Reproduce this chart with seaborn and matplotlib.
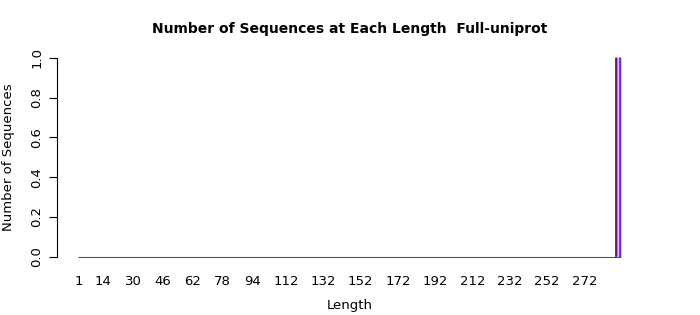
import matplotlib
matplotlib.use("Agg")
import matplotlib.pyplot as plt
import seaborn as sns
import numpy as np
import pandas as pd

# Data
lengths = list(range(1, 292))
counts = [0] * len(lengths)
counts[289 - 1] = 1
counts[291 - 1] = 1
tick_labels = [1, 14, 30, 46, 62, 78, 94, 112, 132, 152, 172, 192, 212, 232, 252, 272]
yticks = [0.0, 0.2, 0.4, 0.6, 0.8, 1.0]

bar_colors = {L: "#ffffff" for L in lengths}
bar_colors[289] = "#8B0000"
bar_colors[291] = "#A020F0"

sns.set_style("white")
plt.rcParams['font.family'] = ['DejaVu Sans']
plt.rcParams['text.color'] = 'black'
plt.rcParams['axes.labelcolor'] = 'black'
plt.rcParams['xtick.color'] = 'black'
plt.rcParams['ytick.color'] = 'black'

df = pd.DataFrame({"Length": lengths, "Count": counts})

fig = plt.figure(figsize=(7, 3.15), dpi=100)
W, H = 700, 315
ax = fig.add_axes([57 / W, (H - 264) / H, (643 - 57) / W, (264 - 50) / H])

sns.barplot(data=df, x="Length", y="Count", hue="Length", palette=bar_colors,
            legend=False, ax=ax, width=0.83, edgecolor="#5a2ad8", linewidth=0.72,
            order=lengths, hue_order=lengths, saturation=1)

for p in ax.patches:
    p.set_snap(False)
    if p.get_height() == 0:
        p.set_visible(False)

# baseline formed by the zero-height bar borders
ax.hlines(0, -0.5, len(lengths) - 0.5, colors="#3c3ce6", linewidth=0.75, zorder=1)

px = 541 / 290
ax.set_xlim(-(79 - 57) / px, 290 + (643 - 620) / px)
ax.set_ylim(-0.03777, 1.04)

ax.set_xticks([L - 1 for L in tick_labels])
ax.set_xticklabels([str(t) for t in tick_labels], fontsize=9.5)
ax.tick_params(axis="x", length=0, pad=8)

ax.set_yticks(yticks)
ax.set_yticklabels([f"{v:.1f}" for v in yticks], fontsize=9.5, rotation=90, va="center")
ax.tick_params(axis="y", length=6, width=0.8, direction="out", pad=4, left=True, color="black")

for s in ["top", "right", "bottom"]:
    ax.spines[s].set_visible(False)
ax.spines["left"].set_bounds(0, 1)
ax.spines["left"].set_color("black")
ax.spines["left"].set_linewidth(0.8)

ax.set_xlabel("Length", fontsize=9.5, labelpad=8)
ax.set_ylabel("Number of Sequences", fontsize=9.5, labelpad=11)
fig.text(350 / W, 1 - 29 / H, "Number of Sequences at Each Length  Full-uniprot",
         ha="center", va="center", fontsize=10, fontweight="bold")

fig.savefig("out.png", dpi=100)
